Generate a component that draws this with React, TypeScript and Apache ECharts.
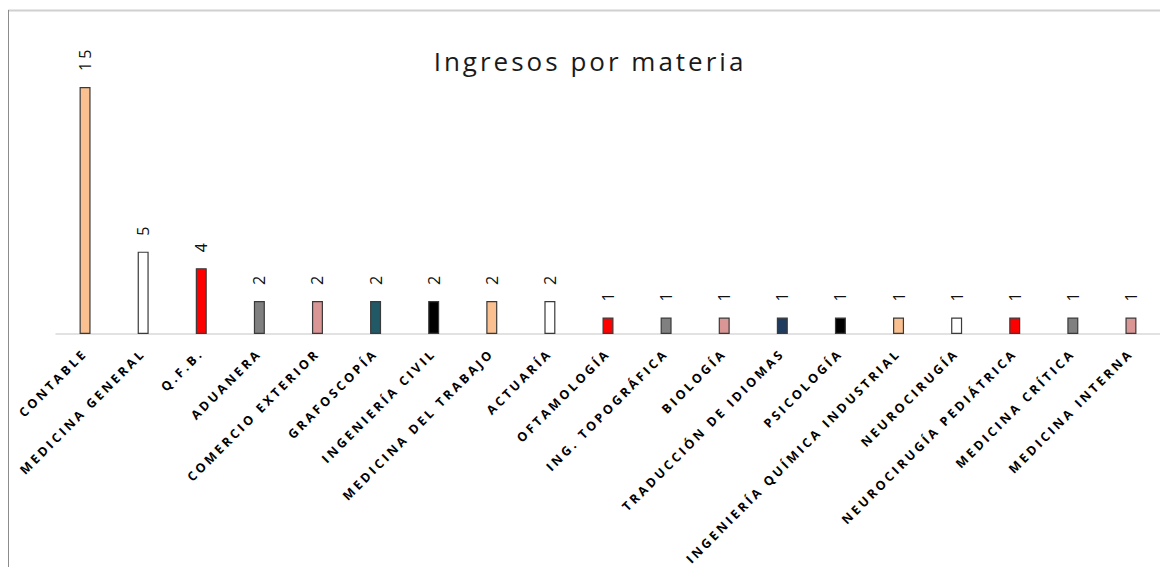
import React, { useEffect, useRef } from "react";
import * as echarts from "echarts";

const categories = [
  "CONTABLE",
  "MEDICINA GENERAL",
  "Q.F.B.",
  "ADUANERA",
  "COMERCIO EXTERIOR",
  "GRAFOSCOPÍA",
  "INGENIERÍA CIVIL",
  "MEDICINA DEL TRABAJO",
  "ACTUARÍA",
  "OFTAMOLOGÍA",
  "ING. TOPOGRÁFICA",
  "BIOLOGÍA",
  "TRADUCCIÓN DE IDIOMAS",
  "PSICOLOGÍA",
  "INGENIERÍA QUÍMICA INDUSTRIAL",
  "NEUROCIRUGÍA",
  "NEUROCIRUGÍA PEDIÁTRICA",
  "MEDICINA CRÍTICA",
  "MEDICINA INTERNA",
];

const values = [15, 5, 4, 2, 2, 2, 2, 2, 2, 1, 1, 1, 1, 1, 1, 1, 1, 1, 1];

const barColors = [
  "#FAC090",
  "#FFFFFF",
  "#FF0000",
  "#808080",
  "#D99694",
  "#215967",
  "#000000",
  "#FAC090",
  "#FFFFFF",
  "#FF0000",
  "#808080",
  "#D99694",
  "#1F3B5E",
  "#000000",
  "#FAC090",
  "#FFFFFF",
  "#FF0000",
  "#808080",
  "#D99694",
];

const titleText = "Ingresos por materia";

export default function App() {
  const ref = useRef<HTMLDivElement>(null);

  useEffect(() => {
    if (!ref.current) return;
    const chart = echarts.init(ref.current, undefined, { renderer: "svg" });
    chart.setOption({
      animation: false,
      backgroundColor: "#ffffff",
      title: {
        text: titleText,
        left: 585,
        textAlign: "center",
        top: 43,
        textStyle: {
          fontFamily: "Open Sans",
          fontWeight: "normal",
          fontSize: 26,
          color: "#1a1a1a",
        },
      },
      grid: {
        left: 56,
        top: 87,
        width: 1107,
        bottom: 233,
        containLabel: false,
      },
      xAxis: {
        type: "category",
        data: categories,
        axisLine: { show: true, lineStyle: { color: "#d9d9d9", width: 1.5 } },
        axisTick: { show: false },
        axisLabel: {
          interval: 0,
          rotate: 45,
          margin: 17,
          fontFamily: "Open Sans",
          fontWeight: "bold",
          fontSize: 12.5,
          color: "#000000",
        },
      },
      yAxis: {
        type: "value",
        min: 0,
        max: 15,
        show: false,
        splitLine: { show: false },
      },
      series: [
        {
          type: "bar",
          barWidth: 11,
          data: values.map((v, i) => ({
            value: v,
            itemStyle: { color: barColors[i] },
          })),
          itemStyle: { borderColor: "#3a3a3a", borderWidth: 1.2 },
          label: {
            show: true,
            position: "top",
            rotate: 90,
            distance: 16,
            align: "left",
            verticalAlign: "middle",
            fontFamily: "Open Sans",
            fontSize: 16,
            color: "#111111",
          },
        },
      ],
      graphic: [
        {
          type: "line",
          shape: { x1: 8, y1: 10.5, x2: 1160, y2: 10.5 },
          style: { stroke: "#d0d0d0", lineWidth: 2 },
          silent: true,
        },
        {
          type: "line",
          shape: { x1: 8.5, y1: 10, x2: 8.5, y2: 567 },
          style: { stroke: "#8c8c8c", lineWidth: 1 },
          silent: true,
        },
      ],
    });
    return () => chart.dispose();
  }, []);

  return (
    <div
      style={{
        position: "fixed",
        left: 0,
        top: 0,
        width: 1160,
        height: 567,
        overflow: "hidden",
        background: "#fff",
      }}
    >
      <div
        ref={ref}
        style={{ width: 1160, height: 567, letterSpacing: "3px" }}
      />
    </div>
  );
}
